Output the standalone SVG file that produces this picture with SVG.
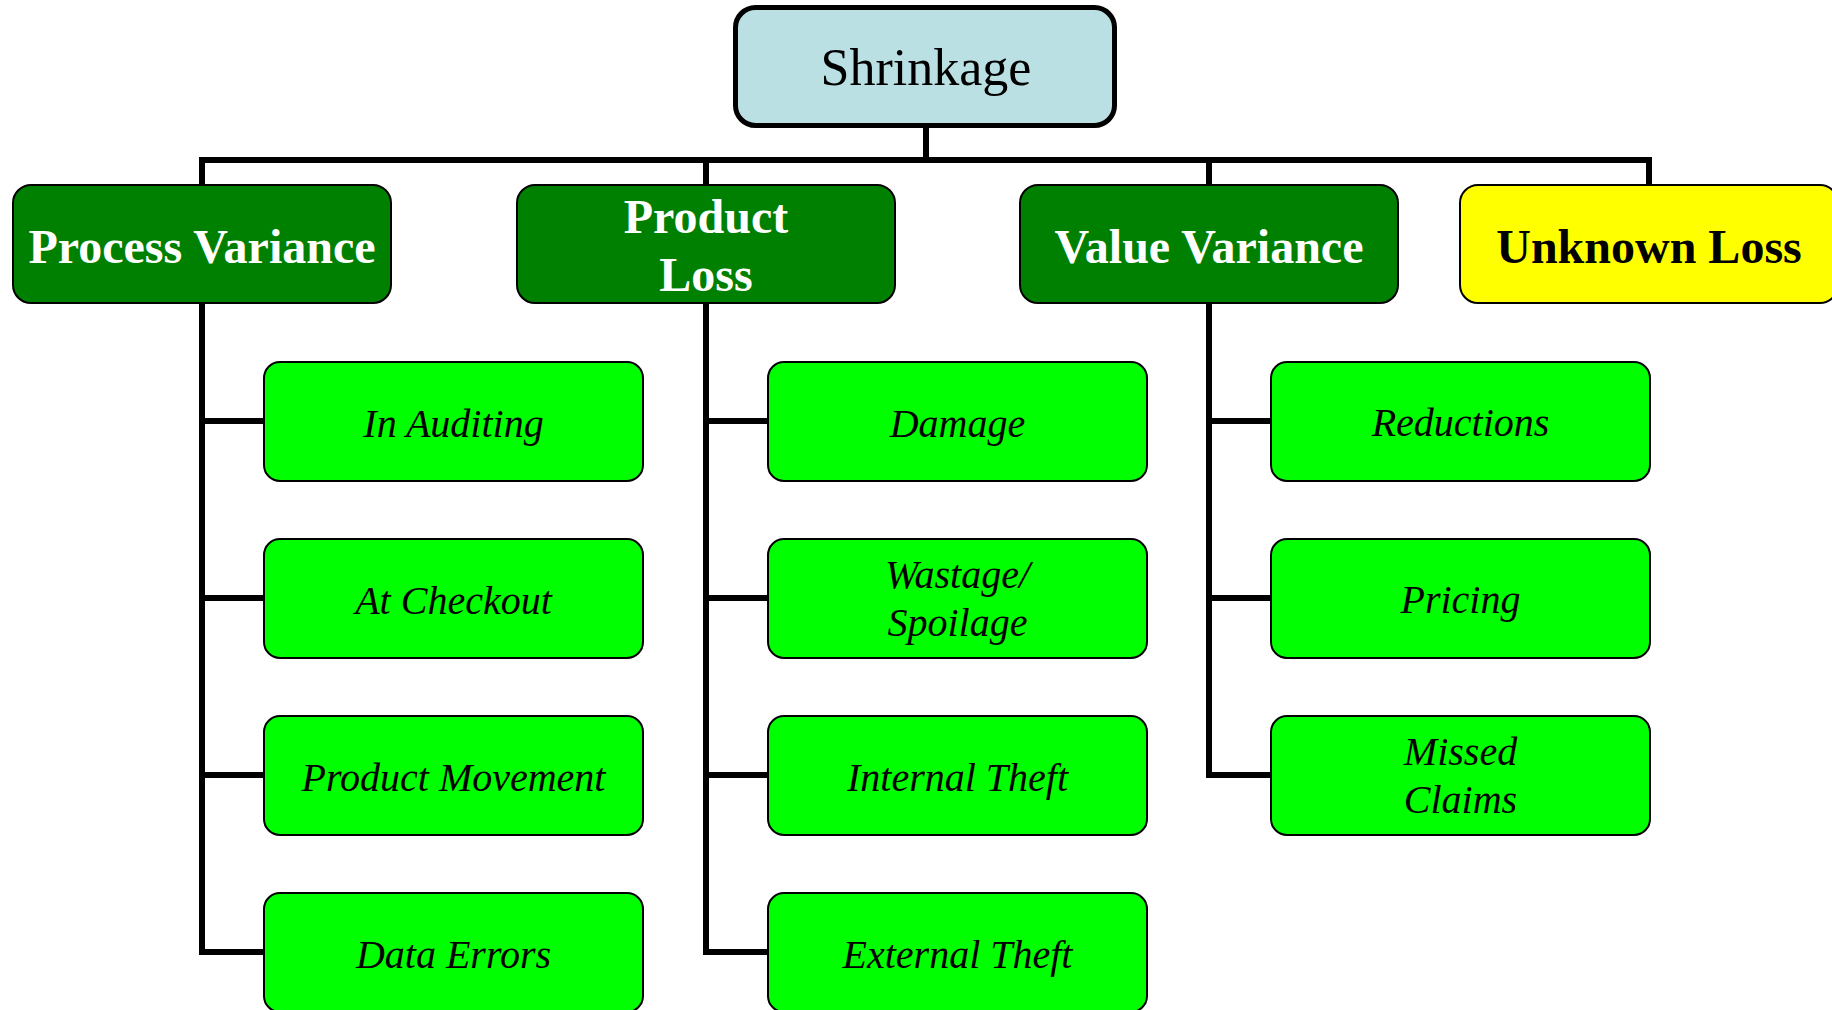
<svg xmlns="http://www.w3.org/2000/svg" width="1832" height="1010" viewBox="0 0 1832 1010">
<style>
.root{fill:#BAE0E4;stroke:#000;stroke-width:5}
.head{fill:#008000;stroke:#000;stroke-width:2}
.unk{fill:#FFFF00;stroke:#000;stroke-width:2}
.leaf{fill:#00FF00;stroke:#000;stroke-width:2}
.conn{fill:none;stroke:#000;stroke-width:6;stroke-linejoin:miter;stroke-linecap:butt}
text{font-family:"Liberation Serif","Times New Roman",serif;text-anchor:middle}
.rt{font-size:52px;fill:#000}
.ht{font-size:48px;font-weight:bold;fill:#fff}
.ut{font-size:48px;font-weight:bold;fill:#000}
.lt{font-size:40px;font-style:italic;fill:#000}
</style>
<rect width="1832" height="1010" fill="#fff"/>
<g id="connectors">
<path class="conn" d="M926,128 V160"/>
<path class="conn" d="M202,186 V160 H1649 V186"/>
<path class="conn" d="M706,160 V186"/>
<path class="conn" d="M1209,160 V186"/>
<path class="conn" d="M202,302 V952 H265"/>
<path class="conn" d="M202,421 H265 M202,598 H265 M202,775 H265"/>
<path class="conn" d="M706,302 V952 H769"/>
<path class="conn" d="M706,421 H769 M706,598 H769 M706,775 H769"/>
<path class="conn" d="M1209,302 V775 H1272"/>
<path class="conn" d="M1209,421 H1272 M1209,598 H1272"/>
</g>
<g id="shrinkage"><rect class="root" x="735.5" y="7.5" width="379" height="118" rx="20"/><text class="rt" x="926" y="85">Shrinkage</text></g>
<g id="process-variance"><rect class="head" x="13" y="185" width="378" height="118" rx="18"/><text class="ht" x="202" y="263">Process Variance</text></g>
<g id="product-loss"><rect class="head" x="517" y="185" width="378" height="118" rx="18"/><text class="ht" x="706" y="233">Product</text><text class="ht" x="706" y="291">Loss</text></g>
<g id="value-variance"><rect class="head" x="1020" y="185" width="378" height="118" rx="18"/><text class="ht" x="1209" y="263">Value Variance</text></g>
<g id="unknown-loss"><rect class="unk" x="1460" y="185" width="378" height="118" rx="18"/><text class="ut" x="1649" y="263">Unknown Loss</text></g>
<g id="in-auditing"><rect class="leaf" x="264" y="362" width="379" height="119" rx="16"/><text class="lt" x="453.5" y="437">In Auditing</text></g>
<g id="at-checkout"><rect class="leaf" x="264" y="539" width="379" height="119" rx="16"/><text class="lt" x="453.5" y="614">At Checkout</text></g>
<g id="product-movement"><rect class="leaf" x="264" y="716" width="379" height="119" rx="16"/><text class="lt" x="453.5" y="791">Product Movement</text></g>
<g id="data-errors"><rect class="leaf" x="264" y="893" width="379" height="119" rx="16"/><text class="lt" x="453.5" y="968">Data Errors</text></g>
<g id="damage"><rect class="leaf" x="768" y="362" width="379" height="119" rx="16"/><text class="lt" x="957.5" y="437">Damage</text></g>
<g id="wastage-spoilage"><rect class="leaf" x="768" y="539" width="379" height="119" rx="16"/><text class="lt" x="957.5" y="588">Wastage/</text><text class="lt" x="957.5" y="636">Spoilage</text></g>
<g id="internal-theft"><rect class="leaf" x="768" y="716" width="379" height="119" rx="16"/><text class="lt" x="957.5" y="791">Internal Theft</text></g>
<g id="external-theft"><rect class="leaf" x="768" y="893" width="379" height="119" rx="16"/><text class="lt" x="957.5" y="968">External Theft</text></g>
<g id="reductions"><rect class="leaf" x="1271" y="362" width="379" height="119" rx="16"/><text class="lt" x="1460.5" y="436">Reductions</text></g>
<g id="pricing"><rect class="leaf" x="1271" y="539" width="379" height="119" rx="16"/><text class="lt" x="1460.5" y="613">Pricing</text></g>
<g id="missed-claims"><rect class="leaf" x="1271" y="716" width="379" height="119" rx="16"/><text class="lt" x="1460.5" y="765">Missed</text><text class="lt" x="1460.5" y="813">Claims</text></g>
</svg>
